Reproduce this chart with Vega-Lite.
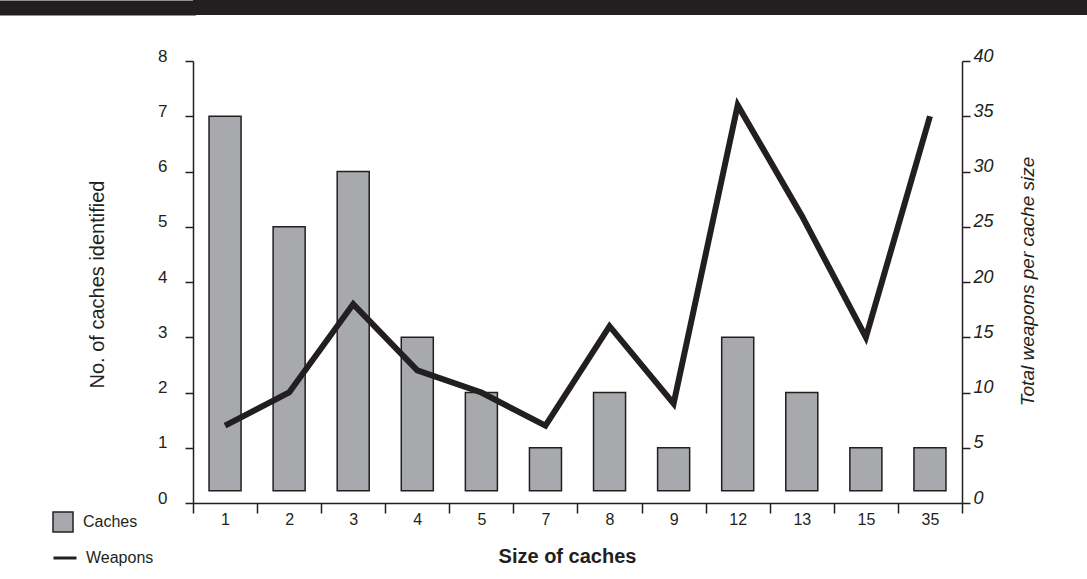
{
  "$schema": "https://vega.github.io/schema/vega-lite/v6.json",
  "padding": {"left": -8, "top": 0, "right": 0, "bottom": 0},
  "autosize": {"type": "pad"},
  "spacing": 31,
  "config": {
    "view": {"stroke": null},
    "font": "Liberation Sans",
    "axis": {
      "domainColor": "#231f20",
      "tickColor": "#231f20",
      "labelColor": "#231f20",
      "titleColor": "#231f20",
      "domainWidth": 1.5,
      "tickWidth": 1.5,
      "grid": false
    },
    "legend": {"labelColor": "#231f20"}
  },
  "vconcat": [
    {
      "width": 894,
      "height": 15,
      "view": {"fill": "#231f20", "stroke": null},
      "data": {"values": [{"v": 0.5}]},
      "mark": {"type": "point", "opacity": 0},
      "encoding": {
        "y": {
          "field": "v",
          "type": "quantitative",
          "scale": {"domain": [0, 1]},
          "axis": {
            "values": [0.5],
            "offset": -3,
            "translate": 0,
            "tickSize": 196,
            "tickWidth": 15,
            "tickColor": "#231f20",
            "domain": false,
            "labels": false,
            "title": null
          }
        }
      }
    },
    {
      "width": 769,
      "height": 442,
      "data": {
        "values": [
          {"size": 1, "caches": 7, "weapons": 7},
          {"size": 2, "caches": 5, "weapons": 10},
          {"size": 3, "caches": 6, "weapons": 18},
          {"size": 4, "caches": 3, "weapons": 12},
          {"size": 5, "caches": 2, "weapons": 10},
          {"size": 7, "caches": 1, "weapons": 7},
          {"size": 8, "caches": 2, "weapons": 16},
          {"size": 9, "caches": 1, "weapons": 9},
          {"size": 12, "caches": 3, "weapons": 36},
          {"size": 13, "caches": 2, "weapons": 26},
          {"size": 15, "caches": 1, "weapons": 15},
          {"size": 35, "caches": 1, "weapons": 35}
        ]
      },
      "layer": [
        {
          "mark": {"type": "bar", "stroke": "#231f20", "strokeWidth": 1.5, "width": {"band": 0.5}},
          "encoding": {
            "x": {
              "field": "size",
              "type": "ordinal",
              "sort": "ascending",
              "scale": {"paddingInner": 0, "paddingOuter": 0},
              "axis": {
                "tickBand": "extent",
                "tickSize": 10,
                "labelAngle": 0,
                "labelFontSize": 16,
                "labelBaseline": "alphabetic",
                "labelPadding": 11,
                "title": "Size of caches",
                "titleFontSize": 20,
                "titleFontWeight": "bold",
                "titleX": 374,
                "titleY": 53,
                "titleBaseline": "middle"
              }
            },
            "y": {
              "field": "caches",
              "type": "quantitative",
              "scale": {"domain": [0, 8]},
              "axis": {
                "values": [0, 1, 2, 3, 4, 5, 6, 7, 8],
                "tickSize": 8,
                "labelPadding": 18,
                "labelFontSize": 17,
                "labelBaseline": "alphabetic",
                "title": "No. of caches identified",
                "titleFontSize": 20,
                "titleFontWeight": "normal",
                "titleAngle": 270,
                "titleX": -96,
                "titleY": 223,
                "titleAlign": "center",
                "titleBaseline": "middle"
              }
            },
            "y2": {"datum": 0.22},
            "fill": {
              "datum": "Caches",
              "scale": {"range": ["#a7a9ac"]},
              "legend": {
                "orient": "none",
                "legendX": -201,
                "legendY": 451,
                "padding": 60,
                "title": null,
                "symbolType": "square",
                "symbolSize": 400,
                "symbolStrokeColor": "#231f20",
                "symbolStrokeWidth": 1.5,
                "labelFontSize": 16,
                "labelOffset": 9
              }
            }
          }
        },
        {
          "mark": {"type": "line", "strokeWidth": 6, "strokeJoin": "miter"},
          "encoding": {
            "x": {"field": "size", "type": "ordinal", "sort": "ascending"},
            "y": {
              "field": "weapons",
              "type": "quantitative",
              "scale": {"domain": [0, 40]},
              "axis": {
                "orient": "right",
                "values": [0, 5, 10, 15, 20, 25, 30, 35, 40],
                "tickSize": 8,
                "labelPadding": 3,
                "labelFontSize": 18,
                "labelFontStyle": "italic",
                "labelBaseline": "alphabetic",
                "title": "Total weapons per cache size",
                "titleFontSize": 19,
                "titleFontStyle": "italic",
                "titleFontWeight": "normal",
                "titleAngle": 270,
                "titleX": 65,
                "titleY": 220,
                "titleAlign": "center",
                "titleBaseline": "middle"
              }
            },
            "stroke": {
              "datum": "Weapons",
              "scale": {"range": ["#231f20"]},
              "legend": {
                "orient": "none",
                "legendX": -201,
                "legendY": 485,
                "padding": 60,
                "title": null,
                "symbolType": "stroke",
                "symbolSize": 529,
                "symbolStrokeWidth": 3,
                "labelFontSize": 16,
                "labelOffset": 8
              }
            }
          }
        }
      ],
      "resolve": {"scale": {"y": "independent"}}
    }
  ]
}
